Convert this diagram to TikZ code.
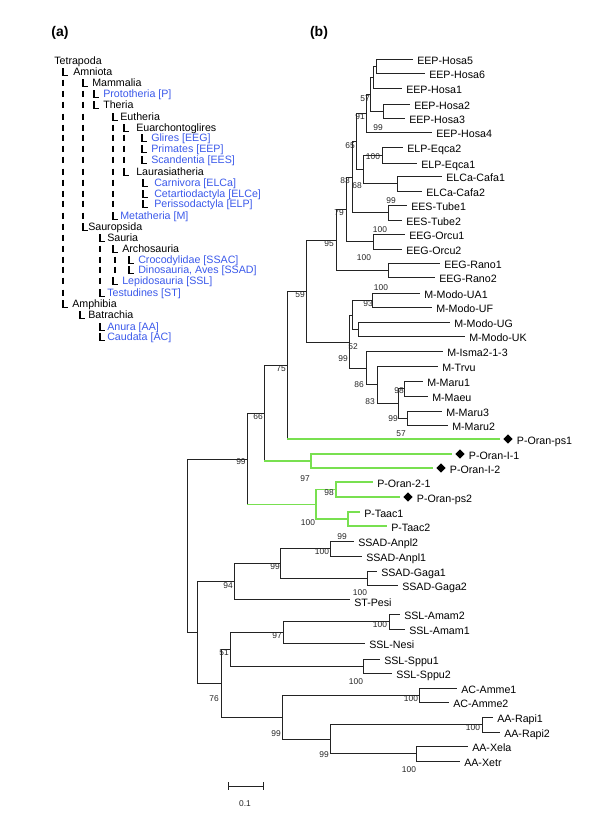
\documentclass[tikz,border=0pt]{standalone}
\usepackage{fontspec}
\setmainfont{Liberation Sans}
\usetikzlibrary{shapes.geometric}
\definecolor{tgreen}{RGB}{120,224,80}
\definecolor{tblue}{RGB}{60,90,235}
\definecolor{tline}{RGB}{35,35,35}
\newcommand{\leaf}[4]{\coordinate (#1) at (#2,#3);
  \node[lab] (#1-t) at ([xshift=3pt,yshift=-3.75pt]#1) {#4};}
\newcommand{\dleaf}[4]{\coordinate (#1) at (#2,#3);
  \node[dia] (#1-d) at ([xshift=6pt]#1) {};
  \node[lab] (#1-t) at ([xshift=12.5pt,yshift=-3.75pt]#1) {#4};}
\newcommand{\inn}[3]{\coordinate (#1) at (#2,#3);}
\newcommand{\br}[2]{\draw[brl] (#1) |- (#2);}
\newcommand{\gbr}[2]{\draw[brl] (#1) -- (#1 |- #2); \draw[grl] (#1 |- #2) -- (#2);}
\newcommand{\ggbr}[2]{\draw[grl] (#1) |- (#2);}
\newcommand{\Lm}[2]{\draw[tick] ({#1},{#2-3.6}) -- ({#1},{#2+3.4}) -- ({#1+5},{#2+3.4});}
\newcommand{\Pp}[2]{\draw[tick] ({#1},{#2-3.4}) -- ({#1},{#2+3.4});}
\newcommand{\tx}[5]{\node[alab,text=#4] (#5) at (#1,{#2+3.8}) {#3};}
\begin{document}
\begin{tikzpicture}[x=0.75pt,y=-0.75pt,
  brl/.style={draw=tline,line width=0.75pt},
  grl/.style={draw=tgreen,line width=0.8pt},
  tick/.style={draw=black,line width=0.9pt},
  lab/.style={anchor=base west,inner sep=0pt,font=\fontsize{8}{9}\selectfont},
  alab/.style={anchor=base west,inner sep=0pt,font=\fontsize{8}{9}\selectfont},
  bs/.style={inner sep=0pt,font=\fontsize{6.3}{7}\selectfont,text=black!85},
  dia/.style={diamond,fill=black,inner sep=0pt,minimum width=7pt,minimum height=7pt},
  panel/.style={inner sep=0pt,font=\fontsize{10.5}{12}\selectfont\bfseries}]
\useasboundingbox (0,0) rectangle (600,815);
\fill[white] (0,0) rectangle (600,815);

% ---------- panel labels
\node[panel] (pa) at (60,33) {(a)};
\node[panel] (pb) at (319,33) {(b)};

% ---------- panel (a): taxonomy
\tx{54}{61}{Tetrapoda}{black}{t1}
\Lm{63}{72}\tx{73}{72}{Amniota}{black}{t2}
\Lm{83}{83}\tx{92}{83}{Mammalia}{black}{t3}
\Lm{94}{94}\tx{103}{94}{Prototheria [P]}{tblue}{t4}
\Lm{94}{105}\tx{103}{105}{Theria}{black}{t5}
\Lm{113}{117}\tx{120}{117}{Eutheria}{black}{t6}
\Lm{124}{128}\tx{136}{128}{Euarchontoglires}{black}{t7}
\Lm{142}{138}\tx{151}{138}{Glires [EEG]}{tblue}{t8}
\Lm{142}{149}\tx{151}{149}{Primates [EEP]}{tblue}{t9}
\Lm{142}{160}\tx{151}{160}{Scandentia [EES]}{tblue}{t10}
\Lm{124}{172}\tx{136}{172}{Laurasiatheria}{black}{t11}
\Lm{143}{183}\tx{154}{183}{Carnivora [ELCa]}{tblue}{t12}
\Lm{143}{194}\tx{154}{194}{Cetartiodactyla [ELCe]}{tblue}{t13}
\Lm{143}{204}\tx{154}{204}{Perissodactyla [ELP]}{tblue}{t14}
\Lm{113}{216}\tx{120}{216}{Metatheria [M]}{tblue}{t15}
\Lm{83}{227}\tx{88}{227}{Sauropsida}{black}{t16}
\Lm{100}{238}\tx{107}{238}{Sauria}{black}{t17}
\Lm{113}{249}\tx{122}{249}{Archosauria}{black}{t18}
\Lm{129}{260}\tx{138}{260}{Crocodylidae [SSAC]}{tblue}{t19}
\Lm{129}{270}\tx{138}{270}{Dinosauria, Aves [SSAD]}{tblue}{t20}
\Lm{113}{281}\tx{122}{281}{Lepidosauria [SSL]}{tblue}{t21}
\Lm{100}{293}\tx{107}{293}{Testudines [ST]}{tblue}{t22}
\Lm{63}{304}\tx{72}{304}{Amphibia}{black}{t23}
\Lm{80}{315}\tx{88}{315}{Batrachia}{black}{t24}
\Lm{100}{327}\tx{107}{327}{Anura [AA]}{tblue}{t25}
\Lm{100}{337}\tx{107}{337}{Caudata [AC]}{tblue}{t26}
\foreach \yy in {83,94,105,117,128,138,149,160,172,183,194,204,216,227,238,249,260,270,281,293} {\Pp{63}{\yy}}
\foreach \yy in {94,105,117,128,138,149,160,172,183,194,204,216} {\Pp{83}{\yy}}
\foreach \yy in {128,138,149,160,172,183,194,204} {\Pp{113}{\yy}}
\foreach \yy in {138,149,160} {\Pp{124}{\yy}}
\foreach \yy in {249,260,270,281} {\Pp{100}{\yy}}
\foreach \yy in {260,270} {\Pp{115}{\yy}}

% ---------- panel (b): tree leaves
\leaf{Hosa5}{413}{59}{EEP-Hosa5}
\leaf{Hosa6}{425}{73}{EEP-Hosa6}
\leaf{Hosa1}{402}{88}{EEP-Hosa1}
\leaf{Hosa2}{410}{104}{EEP-Hosa2}
\leaf{Hosa3}{405}{118}{EEP-Hosa3}
\leaf{Hosa4}{432}{132}{EEP-Hosa4}
\leaf{Eqca2}{403}{147}{ELP-Eqca2}
\leaf{Eqca1}{417}{163}{ELP-Eqca1}
\leaf{Cafa1}{442}{176}{ELCa-Cafa1}
\leaf{Cafa2}{422}{191}{ELCa-Cafa2}
\leaf{Tube1}{407}{205}{EES-Tube1}
\leaf{Tube2}{402}{220}{EES-Tube2}
\leaf{Orcu1}{405}{234}{EEG-Orcu1}
\leaf{Orcu2}{402}{249}{EEG-Orcu2}
\leaf{Rano1}{440}{263}{EEG-Rano1}
\leaf{Rano2}{435}{277}{EEG-Rano2}
\leaf{UA1}{420}{293}{M-Modo-UA1}
\leaf{UF}{432}{307}{M-Modo-UF}
\leaf{UG}{450}{322}{M-Modo-UG}
\leaf{UK}{465}{336}{M-Modo-UK}
\leaf{Isma}{443}{351}{M-Isma2-1-3}
\leaf{Trvu}{438}{366}{M-Trvu}
\leaf{Maru1}{423}{381}{M-Maru1}
\leaf{Maeu}{428}{396}{M-Maeu}
\leaf{Maru3}{442}{411}{M-Maru3}
\leaf{Maru2}{448}{425}{M-Maru2}
\dleaf{ps1}{500}{439}{P-Oran-ps1}
\dleaf{I1}{452}{454}{P-Oran-I-1}
\dleaf{I2}{433}{468}{P-Oran-I-2}
\leaf{O21}{373}{482}{P-Oran-2-1}
\dleaf{ps2}{400}{497}{P-Oran-ps2}
\leaf{Taac1}{360}{512}{P-Taac1}
\leaf{Taac2}{387}{526}{P-Taac2}
\leaf{Anpl2}{354}{541}{SSAD-Anpl2}
\leaf{Anpl1}{362}{556}{SSAD-Anpl1}
\leaf{Gaga1}{377}{571}{SSAD-Gaga1}
\leaf{Gaga2}{398}{585}{SSAD-Gaga2}
\coordinate (Pesi) at (350,599);
\node[lab] (Pesi-t) at ([xshift=3pt,yshift=-5.5pt]Pesi) {ST-Pesi};
\leaf{Amam2}{400}{614}{SSL-Amam2}
\leaf{Amam1}{405}{629}{SSL-Amam1}
\leaf{Nesi}{365}{643}{SSL-Nesi}
\leaf{Sppu1}{380}{659}{SSL-Sppu1}
\leaf{Sppu2}{392}{673}{SSL-Sppu2}
\leaf{Amme1}{457}{688}{AC-Amme1}
\leaf{Amme2}{449}{702}{AC-Amme2}
\leaf{Rapi1}{493}{717}{AA-Rapi1}
\leaf{Rapi2}{500}{732}{AA-Rapi2}
\leaf{Xela}{468}{746}{AA-Xela}
\leaf{Xetr}{460}{761}{AA-Xetr}

% ---------- internal nodes
\inn{h56}{376}{66}
\inn{h561}{373}{77}
\inn{h23}{383}{111}
\inn{n57}{370}{94}
\inn{n91}{366}{113}
\inn{eq}{382}{155}
\inn{cf}{397}{183.5}
\inn{n68}{363}{169}
\inn{n65}{356}{141}
\inn{tb}{388}{212.5}
\inn{n83}{352}{177}
\inn{oc}{373}{241.5}
\inn{n79}{346}{209}
\inn{rn}{388}{270}
\inn{n95}{336}{240}
\inn{ua}{372}{300}
\inn{ug}{358}{329}
\inn{mo}{352}{315}
\inn{m1}{404}{388.5}
\inn{m3}{407}{418}
\inn{mm}{398}{403}
\inn{tv}{377}{384.5}
\inn{is}{366}{368}
\inn{mar}{349}{342}
\inn{n59}{306}{291}
\inn{n75}{287}{365}
\inn{pI}{311}{461}
\inn{n66}{264}{413}
\inn{p21}{336}{489.5}
\inn{ta}{348}{519}
\inn{p100}{316}{504.5}
\inn{n99}{247}{459}
\inn{anpl}{330}{548.5}
\inn{gaga}{367}{578}
\inn{s99}{280}{563}
\inn{n94}{234}{581}
\inn{am}{389}{621.5}
\inn{n97}{283}{632.5}
\inn{sp}{363}{666}
\inn{n51}{230}{649}
\inn{amme}{419}{695}
\inn{rapi}{482}{724.5}
\inn{xe}{416}{753.5}
\inn{a99b}{330}{739}
\inn{a99}{282}{717}
\inn{n76}{221}{683}
\inn{rep}{197}{632}
\inn{root}{187}{545.5}

% ---------- branches
\br{h56}{Hosa5}\br{h56}{Hosa6}
\br{h561}{h56}\br{h561}{Hosa1}
\br{h23}{Hosa2}\br{h23}{Hosa3}
\br{n57}{h561}\br{n57}{h23}
\br{n91}{n57}\br{n91}{Hosa4}
\br{eq}{Eqca2}\br{eq}{Eqca1}
\br{cf}{Cafa1}\br{cf}{Cafa2}
\br{n68}{eq}\br{n68}{cf}
\br{n65}{n91}\br{n65}{n68}
\br{tb}{Tube1}\br{tb}{Tube2}
\br{n83}{n65}\br{n83}{tb}
\br{oc}{Orcu1}\br{oc}{Orcu2}
\br{n79}{n83}\br{n79}{oc}
\br{rn}{Rano1}\br{rn}{Rano2}
\br{n95}{n79}\br{n95}{rn}
\br{ua}{UA1}\br{ua}{UF}
\br{ug}{UG}\br{ug}{UK}
\br{mo}{ua}\br{mo}{ug}
\br{m1}{Maru1}\br{m1}{Maeu}
\br{m3}{Maru3}\br{m3}{Maru2}
\br{mm}{m1}\br{mm}{m3}
\br{tv}{Trvu}\br{tv}{mm}
\br{is}{Isma}\br{is}{tv}
\br{mar}{mo}\br{mar}{is}
\br{n59}{n95}\br{n59}{mar}
\br{n75}{n59}\gbr{n75}{ps1}
\ggbr{pI}{I1}\ggbr{pI}{I2}
\br{n66}{n75}\gbr{n66}{pI}
\ggbr{p21}{O21}\ggbr{p21}{ps2}
\ggbr{ta}{Taac1}\ggbr{ta}{Taac2}
\ggbr{p100}{p21}\ggbr{p100}{ta}
\br{n99}{n66}\gbr{n99}{p100}
\br{anpl}{Anpl2}\br{anpl}{Anpl1}
\br{gaga}{Gaga1}\br{gaga}{Gaga2}
\br{s99}{anpl}\br{s99}{gaga}
\br{n94}{s99}\br{n94}{Pesi}
\br{am}{Amam2}\br{am}{Amam1}
\br{n97}{am}\br{n97}{Nesi}
\br{sp}{Sppu1}\br{sp}{Sppu2}
\br{n51}{n97}\br{n51}{sp}
\br{amme}{Amme1}\br{amme}{Amme2}
\br{rapi}{Rapi1}\br{rapi}{Rapi2}
\br{xe}{Xela}\br{xe}{Xetr}
\br{a99b}{rapi}\br{a99b}{xe}
\br{a99}{amme}\br{a99}{a99b}
\br{n76}{n51}\br{n76}{a99}
\br{rep}{n94}\br{rep}{n76}
\br{root}{n99}\br{root}{rep}

% ---------- bootstrap values
\node[bs] (b1) at (365,99) {57};
\node[bs] (b2) at (360,117) {91};
\node[bs] (b3) at (378,128) {99};
\node[bs] (b4) at (350,146) {65};
\node[bs] (b5) at (373,157) {100};
\node[bs] (b6) at (357,186) {68};
\node[bs] (b7) at (345,181) {83};
\node[bs] (b8) at (391,201) {99};
\node[bs] (b9) at (339,213) {79};
\node[bs] (b10) at (380,230) {100};
\node[bs] (b11) at (364,258) {100};
\node[bs] (b12) at (329,244) {95};
\node[bs] (b13) at (300,295) {59};
\node[bs] (b14) at (381,288) {100};
\node[bs] (b15) at (368,304) {93};
\node[bs] (b16) at (353,347) {52};
\node[bs] (b17) at (343,359) {99};
\node[bs] (b18) at (359,385) {86};
\node[bs] (b19) at (399,391) {98};
\node[bs] (b20) at (370,402) {83};
\node[bs] (b21) at (393,419) {99};
\node[bs] (b22) at (401,434) {57};
\node[bs] (b23) at (281,369) {75};
\node[bs] (b24) at (258,417) {66};
\node[bs] (b25) at (241,462) {99};
\node[bs] (b26) at (305,479) {97};
\node[bs] (b27) at (329,493) {98};
\node[bs] (b28) at (308,523) {100};
\node[bs] (b29) at (342,537) {99};
\node[bs] (b30) at (322,552) {100};
\node[bs] (b31) at (275,567) {99};
\node[bs] (b32) at (228,586) {94};
\node[bs] (b33) at (360,593) {100};
\node[bs] (b34) at (380,625) {100};
\node[bs] (b35) at (277,636) {97};
\node[bs] (b36) at (224,653) {51};
\node[bs] (b37) at (356,682) {100};
\node[bs] (b38) at (214,699) {76};
\node[bs] (b39) at (411,699) {100};
\node[bs] (b40) at (276,734) {99};
\node[bs] (b41) at (473,728) {100};
\node[bs] (b42) at (324,755) {99};
\node[bs] (b43) at (409,770) {100};

% ---------- scale bar
\coordinate (sb1) at (228,786);
\coordinate (sb2) at (263,786);
\draw[brl] (sb1) -- (sb2);
\draw[brl] ([yshift=3pt]sb1) -- ([yshift=-3pt]sb1);
\draw[brl] ([yshift=3pt]sb2) -- ([yshift=-3pt]sb2);
\node[bs] (sbl) at (245,804) {0.1};
\end{tikzpicture}
\end{document}
